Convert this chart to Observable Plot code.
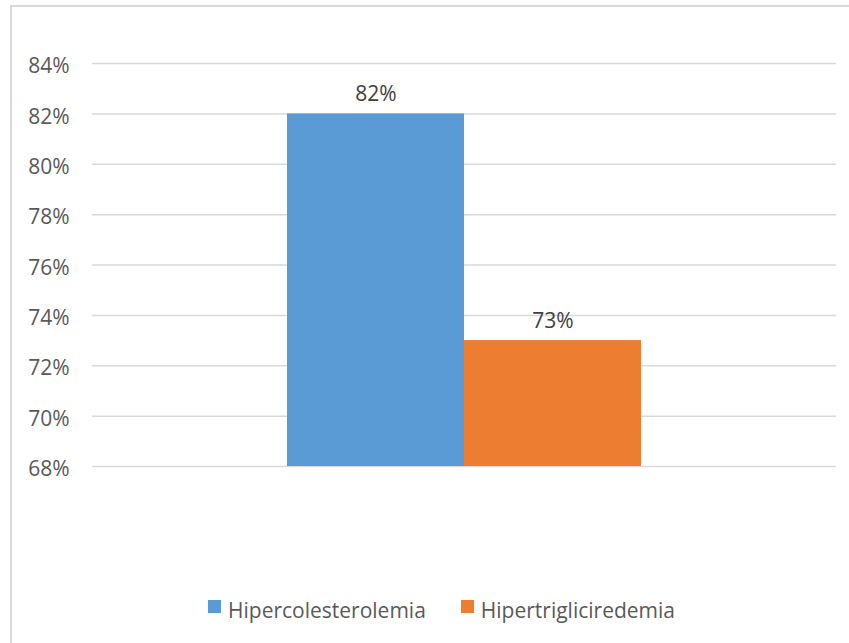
<!DOCTYPE html>
<html>
<head>
<meta charset="utf-8">
<script src="https://cdn.jsdelivr.net/npm/d3@7"></script>
<script src="https://cdn.jsdelivr.net/npm/@observablehq/plot@0.6"></script>
<style>
  html, body { margin: 0; padding: 0; background: #fff; overflow: hidden; }
  body { width: 849px; height: 643px; position: relative; font-family: "Open Sans", sans-serif; }
  #frame { position: absolute; left: 10px; top: 5px; width: 900px; height: 700px; border: 2px solid #d9d9d9; box-sizing: border-box; }
  #chart { position: absolute; left: 0; top: 0; }
  #legend { position: absolute; left: 208px; top: 596px; display: flex; font-size: 21px; color: #595959; }
  .item { display: flex; align-items: center; }
  .sw { width: 13px; height: 13px; margin-right: 7px; margin-top: -8px; }
</style>
</head>
<body>
<div id="frame"></div>
<div id="chart"></div>
<div id="legend"></div>
<script>
const series = ["Hipercolesterolemia", "Hipertrigliciredemia"];
const values = [0.82, 0.73];
const colors = ["#5B9BD5", "#ED7D31"];
const yTicks = [0.68, 0.70, 0.72, 0.74, 0.76, 0.78, 0.80, 0.82, 0.84];

const data = series.map((s, i) => ({series: s, value: values[i]}));
const fmt = d3.format(".0%");

const chart = Plot.plot({
  width: 849,
  height: 590,
  marginLeft: 92,
  marginRight: 13,
  marginTop: 63,
  marginBottom: 124,
  style: {fontFamily: "Open Sans, sans-serif", fontSize: "21px", color: "#595959", background: "transparent"},
  x: {domain: series, paddingInner: 0, paddingOuter: 1.096, axis: null},
  y: {domain: [0.68, 0.84], axis: null},
  color: {domain: series, range: colors},
  marks: [
    Plot.ruleY(yTicks, {stroke: "#d9d9d9", strokeWidth: 1.5}),
    Plot.axisY(yTicks, {tickFormat: fmt, tickSize: 0, tickPadding: 23, label: null, dy: 3, fill: "#595959", fontSize: 21}),
    Plot.barY(data, {x: "series", y1: 0.68, y2: "value", fill: "series"}),
    Plot.text(data, {x: "series", y: "value", text: d => fmt(d.value), lineAnchor: "bottom", dy: -13, fill: "#404040", fontSize: 21})
  ]
});
document.getElementById("chart").appendChild(chart);

const legend = document.getElementById("legend");
series.forEach((s, i) => {
  const item = document.createElement("div");
  item.className = "item";
  item.style.marginRight = i === 0 ? "35px" : "0";
  const sw = document.createElement("span");
  sw.className = "sw";
  sw.style.background = colors[i];
  const t = document.createElement("span");
  t.textContent = s;
  item.appendChild(sw);
  item.appendChild(t);
  legend.appendChild(item);
});
</script>
</body>
</html>
